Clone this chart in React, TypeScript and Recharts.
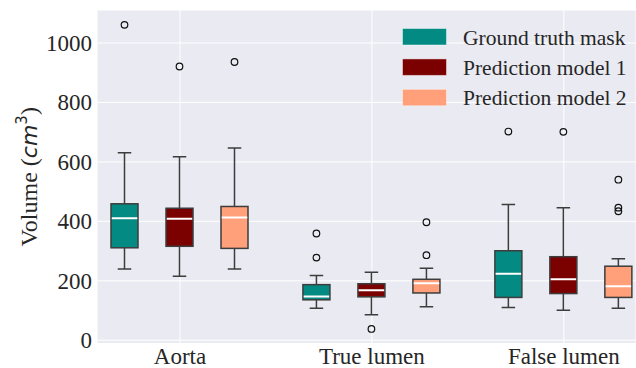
import React from "react";
import { ComposedChart, Bar, XAxis, YAxis, CartesianGrid, Legend } from "recharts";

const categories = ["Aorta", "True lumen", "False lumen"];
const seriesNames = ["Ground truth mask", "Prediction model 1", "Prediction model 2"];
const seriesColors = ["#038A82", "#7B0000", "#FFA07A"];

// [lower whisker, Q1, median, Q3, upper whisker] per category
const groundTruthBoxes = [
  [240, 311, 410, 459, 631],
  [108, 136, 147, 187, 218],
  [110, 144, 224, 301, 457],
];
const model1Boxes = [
  [215, 316, 409, 444, 617],
  [86, 146, 168, 190, 229],
  [101, 157, 205, 281, 446],
];
const model2Boxes = [
  [240, 309, 413, 450, 647],
  [113, 159, 192, 205, 242],
  [108, 144, 182, 249, 274],
];

const groundTruthOutliers = [[1061], [359, 278], [702]];
const model1Outliers = [[921], [38], [701]];
const model2Outliers = [[936], [397, 286], [540, 446, 434]];

const yTicks = [0, 200, 400, 600, 800, 1000];

const allBoxes = [groundTruthBoxes, model1Boxes, model2Boxes];
const allOutliers = [groundTruthOutliers, model1Outliers, model2Outliers];

const data = categories.map((name, i) => {
  const row: any = { name };
  allBoxes.forEach((boxes, k) => {
    const vals = [...boxes[i], ...allOutliers[k][i]];
    row[`range${k}`] = [Math.min(...vals), Math.max(...vals)];
    row[`stats${k}`] = boxes[i];
    row[`out${k}`] = allOutliers[k][i];
  });
  return row;
});

const FONT = '"Liberation Serif", "Times New Roman", serif';
const TEXT = "#262626";
const EDGE = "#3d3d3d";

function boxShape(k: number) {
  return (props: any) => {
    const { x, y, width, height, payload } = props;
    const [lo, hi] = payload[`range${k}`];
    const top = Math.min(y, y + height);
    const bottom = Math.max(y, y + height);
    const py = (v: number) => bottom - ((v - lo) / (hi - lo)) * (bottom - top);
    const [wl, q1, med, q3, wh] = payload[`stats${k}`];
    const cx = x + width / 2;
    const cap = width / 4;
    return (
      <g>
        <line x1={cx} x2={cx} y1={py(q3)} y2={py(wh)} stroke={EDGE} strokeWidth={1.5} />
        <line x1={cx} x2={cx} y1={py(q1)} y2={py(wl)} stroke={EDGE} strokeWidth={1.5} />
        <line x1={cx - cap} x2={cx + cap} y1={py(wh)} y2={py(wh)} stroke={EDGE} strokeWidth={1.5} />
        <line x1={cx - cap} x2={cx + cap} y1={py(wl)} y2={py(wl)} stroke={EDGE} strokeWidth={1.5} />
        <rect
          x={x}
          y={py(q3)}
          width={width}
          height={py(q1) - py(q3)}
          fill={seriesColors[k]}
          stroke={EDGE}
          strokeWidth={1.5}
        />
        <line x1={x + 0.75} x2={x + width - 0.75} y1={py(med)} y2={py(med)} stroke="#fff" strokeWidth={2} />
        {payload[`out${k}`].map((v: number, j: number) => (
          <circle key={j} cx={cx} cy={py(v)} r={3.3} fill="none" stroke="#111" strokeWidth={1.2} />
        ))}
      </g>
    );
  };
}

const renderXTick = (props: any) => {
  const { x, y, payload } = props;
  return (
    <text
      x={x}
      y={y + 15}
      textAnchor="middle"
      fill={TEXT}
      style={{ fontFamily: FONT, fontSize: 23 }}
    >
      {payload.value}
    </text>
  );
};

const renderYTick = (props: any) => {
  const { x, y, payload } = props;
  return (
    <text
      x={x}
      y={y + 8}
      textAnchor="end"
      fill={TEXT}
      style={{ fontFamily: FONT, fontSize: 23 }}
    >
      {payload.value}
    </text>
  );
};

function YLabel(props: any) {
  const vb = props.viewBox || { y: 10, height: 333.5 };
  const cy = vb.y + vb.height / 2;
  return (
    <text
      transform={`translate(37, ${cy}) rotate(-90)`}
      textAnchor="middle"
      fill={TEXT}
      fontFamily={FONT}
      fontSize={24}
    >
      <tspan>Volume (</tspan>
      <tspan fontFamily='"DejaVu Sans", sans-serif' fontStyle="italic" fontSize={22}>
        cm
      </tspan>
      <tspan fontFamily='"DejaVu Sans", sans-serif' fontSize={15} dy={-10}>
        3
      </tspan>
      <tspan dy={10}>)</tspan>
    </text>
  );
}

function renderLegend() {
  return (
    <svg width={236} height={95} style={{ display: "block" }}>
      {seriesNames.map((name, k) => (
        <g key={name} transform={`translate(0, ${k * 30.4})`}>
          <rect
            x={2.5}
            y={8.5}
            width={44}
            height={16.5}
            fill={seriesColors[k]}
            stroke="rgba(255,255,255,0.45)"
            strokeWidth={1}
          />
          <text x={63} y={24.5} fill={TEXT} fontFamily={FONT} fontSize={21.5}>
            {name}
          </text>
        </g>
      ))}
    </svg>
  );
}

export default function App() {
  return (
    <div
      style={{
        position: "absolute",
        left: 0,
        top: 0,
        width: 636,
        height: 368,
        background: "#fff",
        fontFamily: FONT,
      }}
    >
      <ComposedChart
        width={636}
        height={368}
        data={data}
        margin={{ top: 10, right: 0, bottom: 0, left: 0 }}
        barGap={28}
        style={{ fontFamily: FONT }}
      >
        <CartesianGrid fill="#EAEAF2" fillOpacity={1} stroke="#ffffff" strokeWidth={1} />
        <XAxis
          dataKey="name"
          height={24.5}
          padding={{ left: -13, right: -23.8 }}
          axisLine={false}
          tickLine={false}
          tickSize={0}
          tickMargin={5}
          tick={renderXTick}
        />
        <YAxis
          type="number"
          width={97}
          domain={[-11, 1111]}
          ticks={yTicks}
          allowDataOverflow
          axisLine={false}
          tickLine={false}
          tickSize={0}
          tickMargin={5}
          tick={renderYTick}
          label={<YLabel />}
        />
        <Legend
          layout="vertical"
          align="center"
          verticalAlign="middle"
          content={renderLegend}
          wrapperStyle={{ top: 20, left: 400, width: 236 }}
        />
        {seriesNames.map((name, k) => (
          <Bar
            key={name}
            name={name}
            dataKey={`range${k}`}
            barSize={27}
            fill={seriesColors[k]}
            shape={boxShape(k)}
            isAnimationActive={false}
          />
        ))}
      </ComposedChart>
    </div>
  );
}
